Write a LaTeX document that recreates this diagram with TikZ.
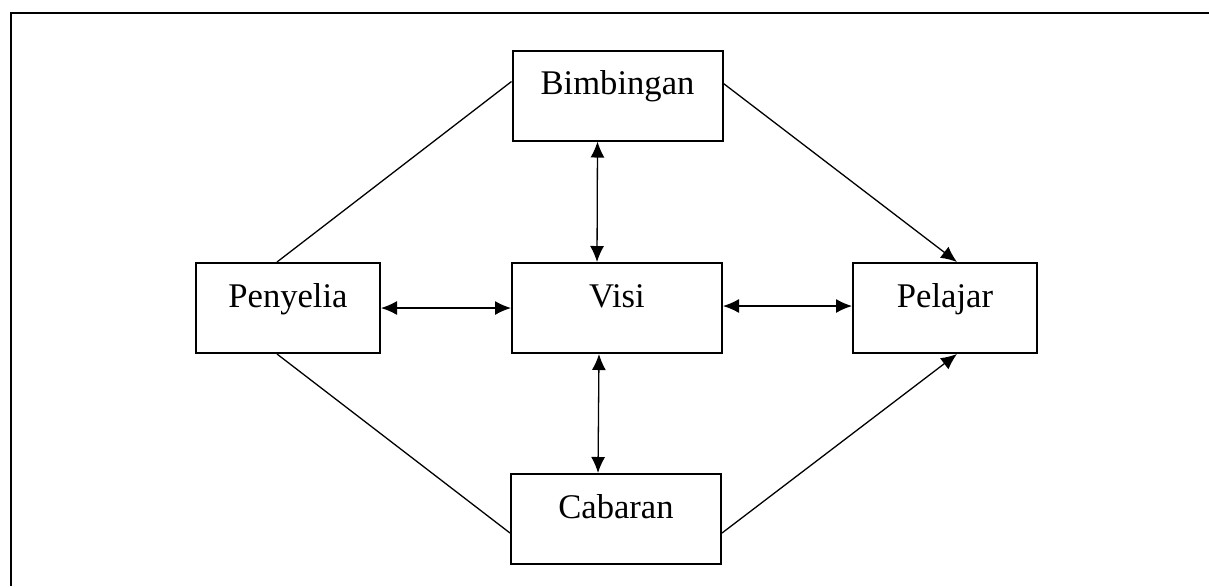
\documentclass[tikz,border=0pt]{standalone}
\usepackage{fontspec}
\setmainfont{Liberation Serif}
\usetikzlibrary{arrows.meta,calc}

\tikzset{
  box/.style={draw=black, line width=1pt, inner sep=0pt, minimum width=105pt,
              text height=22pt, text depth=23pt, font=\fontsize{17.3}{20}\selectfont},
  sidebox/.style={box, minimum width=92pt},
  link/.style={line width=0.65pt},
  tip/.tip={Latex[length=8pt,width=7pt]},
  onearrow/.style={link, -tip},
  twoarrow/.style={link, tip-tip},
}

\begin{document}
\begin{tikzpicture}[x=0.5pt, y=-0.5pt]
  \useasboundingbox (0,0) rectangle (1209,586);
  % frame
  \draw[line width=1pt] (1209,13) -- (11,13) -- (11,586);

  % boxes
  \node[box]     (bim)  at (617.5,95.5) {Bimbingan};
  \node[box]     (visi) at (617,308)    {Visi};
  \node[sidebox] (pen)  at (288,308)    {Penyelia};
  \node[sidebox] (pel)  at (945,308)    {Pelajar};
  \node[box]     (cab)  at (616,519)    {Cabaran};

  % links around visi
  \draw[twoarrow] ([xshift=-10pt]bim.south) -- ([xshift=-10pt]visi.north);
  \draw[twoarrow] ([xshift=-9pt]visi.south) -- ([xshift=-9pt]cab.north);
  \draw[twoarrow] (pen.east) -- (visi.west);
  \draw[twoarrow] ([yshift=1pt]visi.east) -- ([yshift=1pt]pel.west);

  % outer diamond
  \draw[link] ([xshift=-5.5pt]pen.north) -- ([yshift=7pt]bim.west);
  \draw[link] ([xshift=-5.5pt]pen.south) -- ([yshift=-7pt]cab.west);
  \draw[onearrow] ([yshift=6pt]bim.east) -- ([xshift=6pt]pel.north);
  \draw[onearrow] ([yshift=-7pt]cab.east) -- ([xshift=6pt]pel.south);
\end{tikzpicture}
\end{document}
